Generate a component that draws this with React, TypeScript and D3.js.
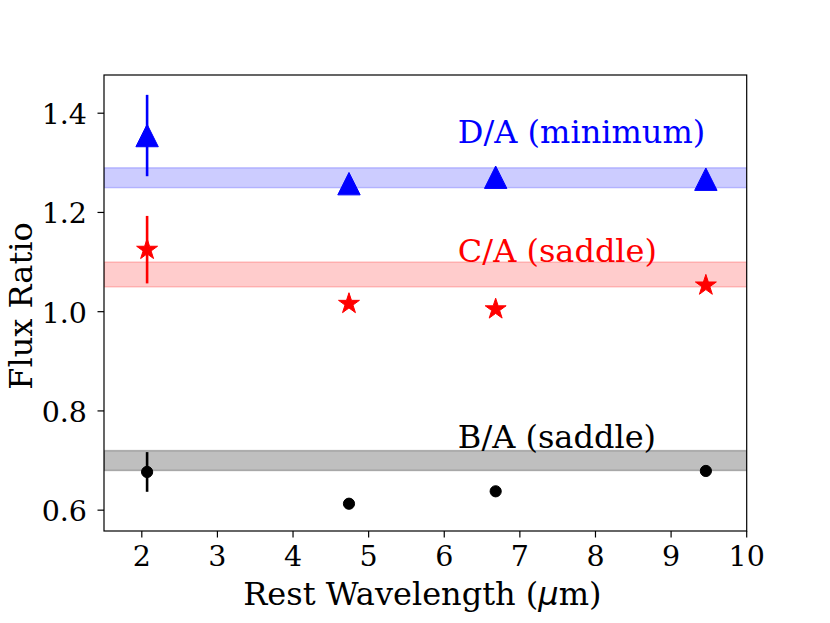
import React from "react";
import * as d3 from "d3";

const wavelengths = [2.07, 4.74, 6.68, 9.46];
const ratioDA = [1.355, 1.258, 1.271, 1.267];
const errDA = [0.082, 0, 0, 0];
const ratioCA = [1.125, 1.016, 1.005, 1.053];
const errCA = [0.068, 0, 0, 0];
const ratioBA = [0.677, 0.613, 0.638, 0.679];
const errBA = [0.04, 0, 0, 0];
const bandDA = [1.25, 1.29];
const bandCA = [1.05, 1.1];
const bandBA = [0.68, 0.72];
const xTicks = [2, 3, 4, 5, 6, 7, 8, 9, 10];
const yTicks = [0.6, 0.8, 1.0, 1.2, 1.4];
const labelDA = "D/A (minimum)";
const labelCA = "C/A (saddle)";
const labelBA = "B/A (saddle)";
const labelX = 6.18;
const labelYs = [1.34, 1.1, 0.725];

const W = 830;
const H = 623;
const L = 104;
const R = 746.7;
const T = 75;
const B = 531;

const x = d3.scaleLinear().domain([1.5, 10]).range([L, R]);
const y = d3.scaleLinear().domain([0.558, 1.477]).range([B, T]);

const serif = "'DejaVu Serif', serif";
const tickFont = 28.5;
const labelFont = 32;

function starPath(r: number) {
  const pts = d3.range(10).map((i) => {
    const rad = i % 2 === 0 ? r : r * 0.381966;
    const a = (i * Math.PI) / 5;
    return [rad * Math.sin(a), -rad * Math.cos(a)] as [number, number];
  });
  return d3.line()(pts) + "Z";
}

function triPath(s: number) {
  return d3.line()([
    [0, -s],
    [-s, s],
    [s, s],
  ]) + "Z";
}

export default function App() {
  const band = (b: number[], color: string, op: number) => (
    <rect
      x={L}
      width={R - L}
      y={y(b[1])}
      height={y(b[0]) - y(b[1])}
      fill={color}
      fillOpacity={op}
      stroke={color}
      strokeOpacity={op}
      strokeWidth={1.5}
    />
  );
  const errs = (vals: number[], errv: number[], color: string) =>
    vals.map((v, i) =>
      errv[i] > 0 ? (
        <line
          key={i}
          x1={x(wavelengths[i])}
          x2={x(wavelengths[i])}
          y1={y(v - errv[i])}
          y2={y(v + errv[i])}
          stroke={color}
          strokeWidth={2.6}
        />
      ) : null
    );
  return (
    <div style={{ position: "absolute", left: 0, top: 0 }}>
      <svg width={W} height={H} style={{ display: "block", background: "#fff" }}>
        <defs>
          <clipPath id="plot">
            <rect x={L} y={T} width={R - L} height={B - T} />
          </clipPath>
        </defs>
        <g clipPath="url(#plot)">
          {band(bandDA, "#0000ff", 0.2)}
          {band(bandCA, "#ff0000", 0.2)}
          {band(bandBA, "#000000", 0.25)}
        </g>
        {errs(ratioDA, errDA, "#0000ff")}
        {errs(ratioCA, errCA, "#ff0000")}
        {errs(ratioBA, errBA, "#000000")}
        {ratioDA.map((v, i) => (
          <path
            key={"d" + i}
            d={triPath(11.2)}
            transform={`translate(${x(wavelengths[i])},${y(v)})`}
            fill="#0000ff"
            stroke="#0000ff"
            strokeWidth={1}
          />
        ))}
        {ratioCA.map((v, i) => (
          <path
            key={"c" + i}
            d={starPath(11)}
            transform={`translate(${x(wavelengths[i])},${y(v)})`}
            fill="#ff0000"
            stroke="#ff0000"
            strokeWidth={1}
          />
        ))}
        {ratioBA.map((v, i) => (
          <circle
            key={"b" + i}
            cx={x(wavelengths[i])}
            cy={y(v)}
            r={5.6}
            fill="#000"
            stroke="#000"
            strokeWidth={1}
          />
        ))}
        <text x={x(labelX)} y={y(labelYs[0])} fill="#0000ff" fontFamily={serif} fontSize={labelFont}>
          {labelDA}
        </text>
        <text x={x(labelX)} y={y(labelYs[1])} fill="#ff0000" fontFamily={serif} fontSize={labelFont}>
          {labelCA}
        </text>
        <text x={x(labelX)} y={y(labelYs[2])} fill="#000" fontFamily={serif} fontSize={labelFont}>
          {labelBA}
        </text>
        <rect x={L} y={T} width={R - L} height={B - T} fill="none" stroke="#000" strokeWidth={1.2} />
        {xTicks.map((t) => (
          <g key={"xt" + t}>
            <line x1={x(t)} x2={x(t)} y1={B} y2={B + 6.5} stroke="#000" strokeWidth={1.2} />
            <text x={x(t)} y={565.7} textAnchor="middle" fontFamily={serif} fontSize={tickFont}>
              {String(t)}
            </text>
          </g>
        ))}
        {yTicks.map((t) => (
          <g key={"yt" + t}>
            <line x1={L - 6.5} x2={L} y1={y(t)} y2={y(t)} stroke="#000" strokeWidth={1.2} />
            <text x={87} y={y(t) + 11} textAnchor="end" fontFamily={serif} fontSize={tickFont}>
              {t.toFixed(1)}
            </text>
          </g>
        ))}
        <text x={(L + R) / 2 - 3} y={605} textAnchor="middle" fontFamily={serif} fontSize={labelFont}>
          Rest Wavelength (<tspan fontFamily="'DejaVu Sans', sans-serif" fontStyle="italic">μ</tspan>m)
        </text>
        <text
          transform={`translate(32,${(T + B) / 2 + 3}) rotate(-90)`}
          textAnchor="middle"
          fontFamily={serif}
          fontSize={labelFont}
        >
          Flux Ratio
        </text>
      </svg>
    </div>
  );
}
